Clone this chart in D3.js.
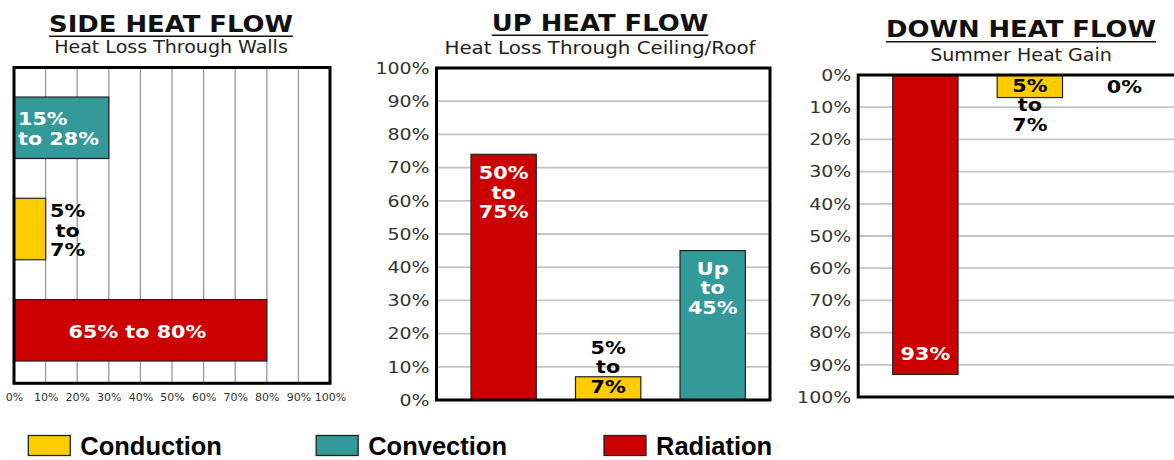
<!DOCTYPE html>
<html>
<head>
<meta charset="utf-8">
<script src="https://cdn.jsdelivr.net/npm/d3@7"></script>
<style>
  body { margin: 0; background: #fff; }
  svg { display: block; }
  text { font-family: "DejaVu Sans", Verdana, sans-serif; }
</style>
</head>
<body>
<svg id="chart" width="1174" height="460"></svg>
<script>
// values (percent of heat flow)
const categories = ["Conduction", "Convection", "Radiation"];
const pctTicks = [0, 10, 20, 30, 40, 50, 60, 70, 80, 90, 100];

const sideCats = ["Convection", "Conduction", "Radiation"];
const sideValues = [30, 10, 80];
const sideLabels = [["15%", "to 28%"], ["5%", "to", "7%"], ["65% to 80%"]];

const upCats = ["Radiation", "Conduction", "Convection"];
const upValues = [74, 7, 45];
const upLabels = [["50%", "to", "75%"], ["5%", "to", "7%"], ["Up", "to", "45%"]];

const downCats = ["Radiation", "Conduction", "Convection"];
const downValues = [93, 7, 0];
const downLabels = [["93%"], ["5%", "to", "7%"], ["0%"]];

const color = { Conduction: "#ffcc00", Convection: "#339999", Radiation: "#cc0000" };

const svg = d3.select("#chart");
const pct = (d) => d + "%";
const inner = pctTicks.slice(1, -1);

// text that is a little wider than DejaVu draws it (the original is Verdana)
function stretched(g, x, y, lines, o) {
  var t = g.append("text")
    .attr("transform", `translate(${x},${y}) scale(${o.sx || 1},1)`)
    .attr("text-anchor", o.anchor || "middle")
    .style("font-size", o.size + "px")
    .style("font-weight", o.weight || "normal")
    .attr("fill", o.fill || "#000");
  lines.forEach((s, i) =>
    t.append("tspan").attr("x", 0).attr("dy", i ? o.lh : 0).text(s)
  );
  return t;
}

function title(cx, by, main, sub, subDy, subSx) {
  var t = stretched(svg, cx, by, [main], { size: 23.5, weight: "bold", sx: 1.1, fill: "#111" });
  var w = t.node().getComputedTextLength() * 1.1;
  svg.append("line")
    .attr("x1", cx - w / 2).attr("x2", cx + w / 2)
    .attr("y1", by + 4.5).attr("y2", by + 4.5)
    .attr("stroke", "#111").attr("stroke-width", 1.6);
  stretched(svg, cx, by + subDy, [sub], { size: 17, sx: subSx, fill: "#222" });
}

function barLabel(x, y, lines, fill) {
  return stretched(svg, x, y, lines, { size: 18.5, weight: "bold", sx: 1.12, lh: 19.5, fill: fill });
}

function frame(b) {
  svg.append("rect")
    .attr("x", b.left).attr("y", b.top)
    .attr("width", b.right - b.left).attr("height", b.bottom - b.top)
    .attr("fill", "none").attr("stroke", "#000").attr("stroke-width", 3);
}

function styleYAxis(g) {
  g.select(".domain").remove();
  g.selectAll("text")
    .style("font-size", "16.5px")
    .attr("fill", "#333")
    .attr("transform", "scale(1.15,1)");
}

// ---------- SIDE HEAT FLOW ----------
const side = { left: 14, right: 330, top: 67.5, bottom: 383.3 };
const xSide = d3.scaleLinear().domain([0, 100]).range([side.left, side.right]);
const ySide = d3.scaleBand().domain(sideCats).range([side.top, side.bottom])
  .paddingInner(0.393).paddingOuter(0.256).align(0.57);

title(171, 31.7, "SIDE HEAT FLOW", "Heat Loss Through Walls", 21.6, 1.12);

svg.append("g").selectAll("line").data(inner).enter().append("line")
  .attr("x1", (d) => xSide(d)).attr("x2", (d) => xSide(d))
  .attr("y1", side.top).attr("y2", side.bottom)
  .attr("stroke", "#999").attr("stroke-width", 1.3);

svg.append("g").selectAll("rect").data(sideCats).enter().append("rect")
  .attr("x", xSide(0))
  .attr("y", (d) => ySide(d))
  .attr("width", (d, i) => xSide(sideValues[i]) - xSide(0))
  .attr("height", ySide.bandwidth())
  .attr("fill", (d) => color[d])
  .attr("stroke", "#222").attr("stroke-width", 1.2);

frame(side);

svg.append("g")
  .attr("transform", "translate(0," + side.bottom + ")")
  .call(d3.axisBottom(xSide).tickValues(pctTicks).tickSize(0).tickPadding(10).tickFormat(pct))
  .call((g) => g.select(".domain").remove())
  .call((g) => g.selectAll("text").style("font-size", "11px").attr("fill", "#333"));

sideCats.forEach((c, i) => {
  var v = sideValues[i], top = ySide(c), bw = ySide.bandwidth();
  if (c === "Convection") {
    barLabel(xSide(0) + 4, top + 28, sideLabels[i], "#fff").attr("text-anchor", "start");
  } else if (c === "Conduction") {
    barLabel(xSide(v) + 22, top + 19, sideLabels[i], "#000");
  } else {
    barLabel((xSide(0) + xSide(v)) / 2 - 3, top + bw / 2 + 8, sideLabels[i], "#fff");
  }
});

// ---------- UP HEAT FLOW ----------
const up = { left: 436.5, right: 770, top: 68, bottom: 400 };
const yUp = d3.scaleLinear().domain([0, 100]).range([up.bottom, up.top]);
const xUp = d3.scaleBand().domain(upCats).range([up.left, up.right])
  .paddingInner(0.375).paddingOuter(0.283).align(0.583);

title(600, 30.7, "UP HEAT FLOW", "Heat Loss Through Ceiling/Roof", 23.6, 1.17);

svg.append("g").selectAll("line").data(inner).enter().append("line")
  .attr("x1", up.left).attr("x2", up.right)
  .attr("y1", (d) => yUp(d)).attr("y2", (d) => yUp(d))
  .attr("stroke", "#c4c4c4").attr("stroke-width", 1.8);

svg.append("g").selectAll("rect").data(upCats).enter().append("rect")
  .attr("x", (d) => xUp(d))
  .attr("y", (d, i) => yUp(upValues[i]))
  .attr("width", xUp.bandwidth())
  .attr("height", (d, i) => yUp(0) - yUp(upValues[i]))
  .attr("fill", (d) => color[d])
  .attr("stroke", "#222").attr("stroke-width", 1.2);

frame(up);

svg.append("g")
  .attr("transform", "translate(" + up.left + ",0)")
  .call(d3.axisLeft(yUp).tickValues(pctTicks).tickSize(0).tickPadding(6).tickFormat(pct))
  .call(styleYAxis);

upCats.forEach((c, i) => {
  var v = upValues[i], cx = xUp(c) + xUp.bandwidth() / 2;
  if (c === "Radiation") barLabel(cx, yUp(v) + 25, upLabels[i], "#fff");
  else if (c === "Conduction") barLabel(cx, yUp(0) - 7 - 2 * 19.5, upLabels[i], "#000");
  else barLabel(cx, yUp(v) + 24, upLabels[i], "#fff");
});

// ---------- DOWN HEAT FLOW ----------
const down = { left: 858.2, right: 1191.7, top: 75, bottom: 397 };
const yDown = d3.scaleLinear().domain([0, 100]).range([down.top, down.bottom]);
const xDown = d3.scaleBand().domain(downCats).range([down.left, down.right])
  .paddingInner(0.375).paddingOuter(0.283).align(0.583);

title(1021, 37.3, "DOWN HEAT FLOW", "Summer Heat Gain", 23.4, 1.12);

svg.append("g").selectAll("line").data(inner).enter().append("line")
  .attr("x1", down.left).attr("x2", down.right)
  .attr("y1", (d) => yDown(d)).attr("y2", (d) => yDown(d))
  .attr("stroke", "#c4c4c4").attr("stroke-width", 1.8);

svg.append("g").selectAll("rect").data(downCats).enter().append("rect")
  .attr("x", (d) => xDown(d))
  .attr("y", yDown(0))
  .attr("width", xDown.bandwidth())
  .attr("height", (d, i) => yDown(downValues[i]) - yDown(0))
  .attr("fill", (d) => color[d])
  .attr("stroke", "#222").attr("stroke-width", 1.2);

frame(down);

svg.append("g")
  .attr("transform", "translate(" + down.left + ",0)")
  .call(d3.axisLeft(yDown).tickValues(pctTicks).tickSize(0).tickPadding(6).tickFormat(pct))
  .call(styleYAxis);

downCats.forEach((c, i) => {
  var v = downValues[i], cx = xDown(c) + xDown.bandwidth() / 2;
  if (c === "Radiation") barLabel(cx, yDown(v) - 14, downLabels[i], "#fff");
  else if (c === "Conduction") barLabel(cx, yDown(0) + 17, downLabels[i], "#000");
  else barLabel(cx - 10, yDown(0) + 18, downLabels[i], "#000");
});

// ---------- legend ----------
const lx = d3.scalePoint().domain(categories).range([28.3, 604]);
const leg = svg.append("g").selectAll("g").data(categories).enter().append("g")
  .attr("transform", (d) => "translate(" + lx(d) + ",435.5)");
leg.append("rect")
  .attr("width", 42).attr("height", 20)
  .attr("fill", (d) => color[d])
  .attr("stroke", "#222").attr("stroke-width", 1.3);
leg.append("text")
  .attr("x", 52).attr("y", 19.5)
  .style("font-family", '"Liberation Sans", Arial, sans-serif')
  .style("font-size", "25.5px").style("font-weight", "bold")
  .attr("fill", "#000")
  .text((d) => d);
</script>
</body>
</html>
